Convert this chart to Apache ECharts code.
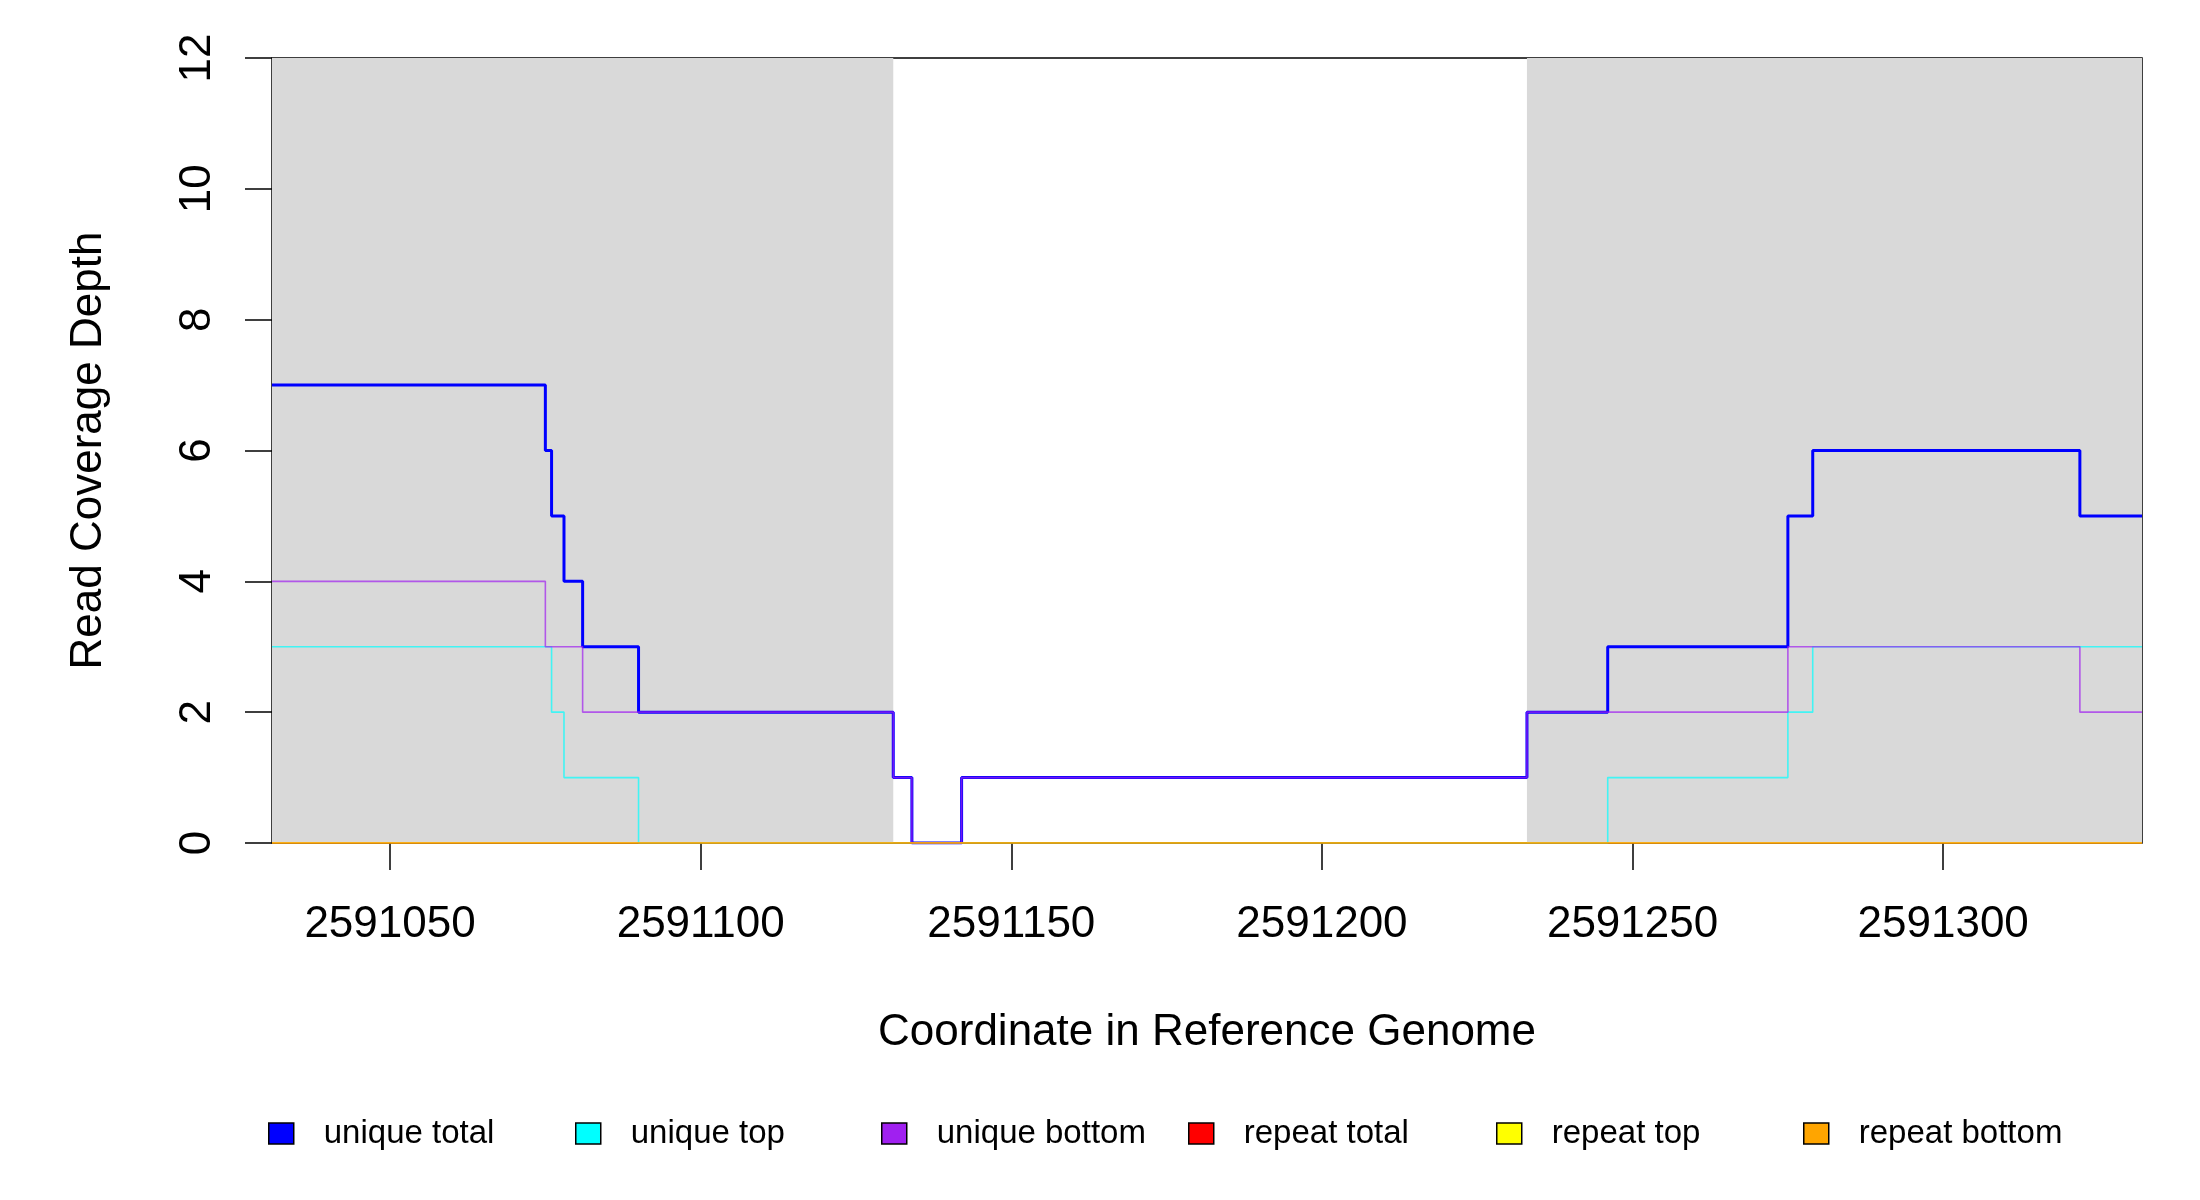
<!DOCTYPE html>
<html>
<head>
<meta charset="utf-8" />
<title>Read Coverage Depth</title>
<style>
  html, body { margin: 0; padding: 0; background: #ffffff; }
  #main { width: 2200px; height: 1200px; }
</style>
</head>
<body>
<div id="main"></div>
<script src="https://cdn.jsdelivr.net/npm/echarts@6/dist/echarts.min.js"></script>
<script>
// coordinate range of the window
var xMin = 2591031;
var xMax = 2591332;
var xTicks = [2591050, 2591100, 2591150, 2591200, 2591250, 2591300];
var yTicks = [0, 2, 4, 6, 8, 10, 12];

// shaded (grey) regions
var shadeRanges = [[2591031, 2591131], [2591233, 2591332]];

// step change points: [position, depth from here on]
var uniqueTotal = [[2591031, 7], [2591075, 6], [2591076, 5], [2591078, 4], [2591081, 3], [2591090, 2],
  [2591131, 1], [2591134, 0], [2591142, 1], [2591233, 2], [2591246, 3], [2591275, 5], [2591279, 6],
  [2591322, 5], [2591332, 5]];
var uniqueTop = [[2591031, 3], [2591076, 2], [2591078, 1], [2591090, 0], [2591246, 1], [2591275, 2],
  [2591279, 3], [2591332, 3]];
var uniqueBottom = [[2591031, 4], [2591075, 3], [2591081, 2], [2591131, 1], [2591134, 0], [2591142, 1],
  [2591233, 2], [2591275, 3], [2591322, 2], [2591332, 2]];
var repeatTotal = [[2591031, 0], [2591332, 0]];
var repeatTop = [[2591031, 0], [2591332, 0]];
var repeatBottom = [[2591031, 0], [2591332, 0]];

var seriesNames = ['unique total', 'unique top', 'unique bottom', 'repeat total', 'repeat top', 'repeat bottom'];
var seriesColors = ['#0000ff', '#00ffff', '#a020f0', '#ff0000', '#ffff00', '#ffa500'];
var seriesData = [uniqueTotal, uniqueTop, uniqueBottom, repeatTotal, repeatTop, repeatBottom];
var legendLeft = [268, 575, 881, 1188, 1496, 1803];

var font = 'Liberation Sans, Arial, sans-serif';

var series = [{
  name: 'shade',
  type: 'line',
  z: -1,
  data: [],
  silent: true,
  markArea: {
    silent: true,
    itemStyle: { color: '#d9d9d9' },
    data: shadeRanges.map(function (r) { return [{ xAxis: r[0] }, { xAxis: r[1] }]; })
  }
}];

seriesNames.forEach(function (name, i) {
  series.push({
    name: name,
    type: 'line',
    step: 'end',
    showSymbol: false,
    symbol: 'none',
    color: seriesColors[i],
    lineStyle: {
      color: seriesColors[i],
      width: i === 0 ? 3 : 1.6,
      opacity: i === 0 ? 1 : 0.7
    },
    data: seriesData[i]
  });
});

var legends = seriesNames.map(function (name, i) {
  return {
    data: [name],
    left: legendLeft[i],
    top: 1117,
    padding: 0,
    icon: 'rect',
    itemWidth: 25,
    itemHeight: 21,
    selectedMode: false,
    itemStyle: { borderColor: '#000', borderWidth: 1.5, opacity: 1 },
    textStyle: { fontFamily: font, fontSize: 33, color: '#000', padding: [0, 0, 0, 25] }
  };
});

var myChart = echarts.init(document.getElementById('main'));
var option = {
  backgroundColor: '#ffffff',
  animation: false,
  legend: legends,
  grid: {
    left: 272,
    right: 58,
    top: 58,
    bottom: 357,
    show: true,
    borderColor: '#000',
    borderWidth: 1.5,
    backgroundColor: 'transparent'
  },
  xAxis: {
    type: 'value',
    min: xMin,
    max: xMax,
    name: 'Coordinate in Reference Genome',
    nameLocation: 'middle',
    nameGap: 168,
    nameTextStyle: { fontFamily: font, fontSize: 44, color: '#000' },
    splitLine: { show: false },
    axisLine: { show: false },
    axisTick: {
      show: true,
      length: 27,
      customValues: xTicks,
      lineStyle: { color: '#000', width: 1.5 }
    },
    axisLabel: {
      customValues: xTicks,
      margin: 60,
      fontFamily: font,
      fontSize: 44,
      color: '#000',
      formatter: function (v) { return String(v); }
    }
  },
  yAxis: {
    type: 'value',
    min: 0,
    max: 12,
    interval: 2,
    name: 'Read Coverage Depth',
    nameLocation: 'middle',
    nameGap: 161,
    nameTextStyle: { fontFamily: font, fontSize: 44, color: '#000' },
    splitLine: { show: false },
    axisLine: { show: false },
    axisTick: {
      show: true,
      length: 27,
      customValues: yTicks,
      lineStyle: { color: '#000', width: 1.5 }
    },
    axisLabel: {
      customValues: yTicks,
      rotate: 90,
      margin: 52,
      fontFamily: font,
      fontSize: 44,
      color: '#000'
    }
  },
  series: series
};
myChart.setOption(option);
</script>
</body>
</html>
